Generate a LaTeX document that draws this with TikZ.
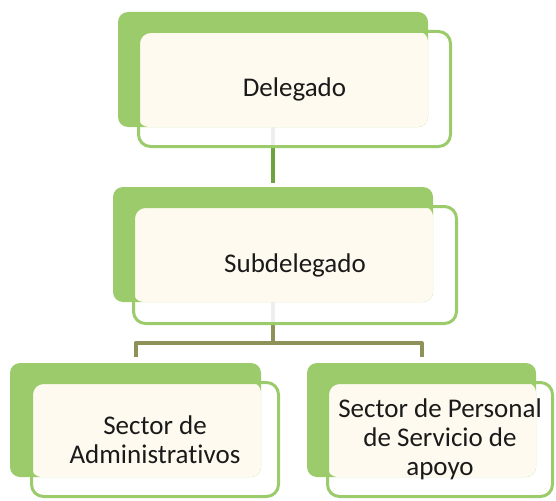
\documentclass[tikz,border=0pt]{standalone}
\usepackage{fontspec}
\setmainfont{Carlito}[Ligatures={NoCommon}]
\definecolor{gback}{HTML}{9BCB6B}
\definecolor{cream}{HTML}{FEFAEF}
\definecolor{conn}{HTML}{6EA23C}
\definecolor{olive}{HTML}{8E9158}
\definecolor{faint}{HTML}{EEEEEE}
\definecolor{txt}{HTML}{1A1A1A}
\pgfdeclarelayer{bottom}
\pgfdeclarelayer{mid}
\pgfsetlayers{bottom,mid,main}
\begin{document}
\begin{tikzpicture}[x=1pt,y=-1pt,
  back/.style={fill=gback, draw=none, rounded corners=10pt, inner sep=0pt, outer sep=0pt},
  front/.style={draw=gback, line width=3pt, rounded corners=12pt, inner sep=0pt, outer sep=0pt,
    align=center, text=txt, font=\fontsize{27}{29}\selectfont},
  link/.style={line width=4pt, line join=round},
  creamfill/.style={fill=cream, rounded corners=10pt}
]
\useasboundingbox (0,0) rectangle (556,500);

% front boxes
\node[front, minimum width=312pt, minimum height=115pt] (fdel) at (294.5,89) {Delegado};
\node[front, minimum width=323pt, minimum height=117pt] (fsub) at (295,265) {Subdelegado};
\node[front, minimum width=247pt, minimum height=114pt] (fleft) at (155,439.5) {Sector de\\Administrativos};
\node[front, minimum width=225pt, minimum height=114pt] (fright) at (440,439.5) {Sector de Personal\\de Servicio de\\apoyo};

% back boxes
\begin{pgfonlayer}{bottom}
\node[back, minimum width=310pt, minimum height=115pt] (bdel) at (273,69.5) {};
\node[back, minimum width=320pt, minimum height=115pt] (bsub) at (273,244.5) {};
\node[back, minimum width=251pt, minimum height=114pt] (bleft) at (135.5,420) {};
\node[back, minimum width=229pt, minimum height=114pt] (bright) at (421.5,420) {};
\end{pgfonlayer}

\begin{pgfonlayer}{mid}
\fill[creamfill] (fdel.north west) rectangle (bdel.south east);
\fill[creamfill] (fsub.north west) rectangle (bsub.south east);
\fill[creamfill] (fleft.north west) rectangle (bleft.south east);
\fill[creamfill] (fright.north west) rectangle (bright.south east);

\draw[link, faint] (bdel.south) -- (bdel.south |- fdel.south);
\draw[link, conn, shorten >=4pt] (bdel.south |- fdel.south) -- (bsub.north);

\draw[link, faint] (bsub.south) -- (bsub.south |- fsub.south);
\coordinate (j) at (273,343);
\draw[link, olive] (bsub.south |- fsub.south) -- (j);
\draw[link, olive] ([yshift=6pt]bleft.north) |- (j) -| ([yshift=6pt]bright.north);
\end{pgfonlayer}
\end{tikzpicture}
\end{document}
